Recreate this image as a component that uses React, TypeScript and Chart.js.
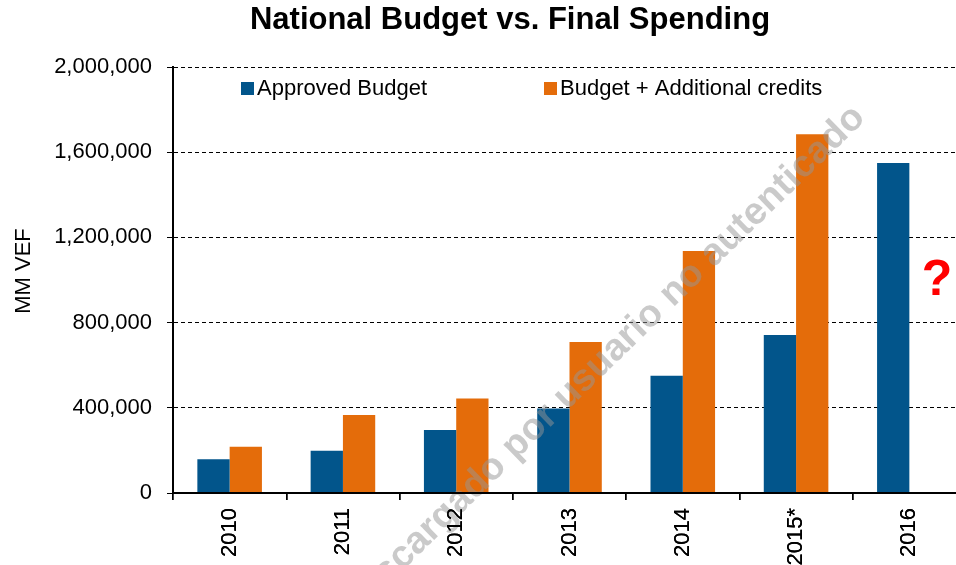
import React, { useEffect, useRef } from "react";
import { Chart, registerables } from "chart.js";

Chart.register(...registerables);

const categories = ["2010", "2011", "2012", "2013", "2014", "2015*", "2016"];
const approvedBudget = [158000, 198000, 296000, 397000, 551000, 742000, 1549000];
const budgetPlusCredits = [217000, 366000, 444000, 709000, 1136000, 1684000, null];
const yTicks = [0, 400000, 800000, 1200000, 1600000, 2000000];

const TITLE = "National Budget vs. Final Spending";
const Y_TITLE = "MM VEF";
const LEGEND = ["Approved Budget", "Budget + Additional credits"];
const WATERMARK = "Descargado por usuario no autenticado";

const BLUE = "#02558B";
const ORANGE = "#E46C0A";
const FONT = "'Liberation Sans', Arial, sans-serif";

const overlay = {
  id: "overlay",
  afterDatasetsDraw(chart: any) {
    const ctx = chart.ctx;
    ctx.save();
    ctx.translate(602, 362);
    ctx.rotate((-44.2 * Math.PI) / 180);
    ctx.font = `bold 38px ${FONT}`;
    ctx.fillStyle = "rgba(150,150,150,0.5)";
    ctx.textAlign = "center";
    ctx.textBaseline = "middle";
    ctx.fillText(WATERMARK, 0, 0);
    ctx.restore();
    chart.scales.x.draw(chart.chartArea);
  },
  afterDraw(chart: any) {
    const ctx = chart.ctx;
    ctx.save();
    // title
    ctx.fillStyle = "#000";
    ctx.font = `bold 31px ${FONT}`;
    ctx.textAlign = "center";
    ctx.textBaseline = "middle";
    ctx.fillText(TITLE, 510, 20);
    // y title
    ctx.save();
    ctx.translate(24, 271);
    ctx.rotate(-Math.PI / 2);
    ctx.font = `22px ${FONT}`;
    ctx.fillText(Y_TITLE, 0, 0);
    ctx.restore();
    // legend
    ctx.font = `22px ${FONT}`;
    ctx.textAlign = "left";
    ctx.fillStyle = BLUE;
    ctx.fillRect(241, 82, 13, 13);
    ctx.fillStyle = "#000";
    ctx.fillText(LEGEND[0], 257, 89);
    ctx.fillStyle = ORANGE;
    ctx.fillRect(544, 82, 13, 13);
    ctx.fillStyle = "#000";
    ctx.fillText(LEGEND[1], 560, 89);
    // question mark
    ctx.fillStyle = "#FF0000";
    ctx.font = `bold 50px ${FONT}`;
    ctx.textAlign = "center";
    ctx.fillText("?", 937, 281);
    ctx.restore();
  },
};

export default function App() {
  const ref = useRef<HTMLCanvasElement | null>(null);
  useEffect(() => {
    document.body.style.margin = "0";
    const canvas = ref.current!;
    const chart = new Chart(canvas, {
      type: "bar",
      data: {
        labels: categories,
        datasets: [
          { label: LEGEND[0], data: approvedBudget, backgroundColor: BLUE },
          { label: LEGEND[1], data: budgetPlusCredits as any, backgroundColor: ORANGE },
        ],
      },
      options: {
        responsive: false,
        animation: false,
        devicePixelRatio: 1,
        layout: { padding: { top: 67, right: 4, left: 0, bottom: 0 } },
        plugins: { legend: { display: false }, title: { display: false }, tooltip: { enabled: false } },
        datasets: { bar: { categoryPercentage: 0.57, barPercentage: 1 } },
        scales: {
          x: {
            offset: true,
            grid: { display: true, drawOnChartArea: false, drawTicks: true, tickLength: 7, color: "#000", offset: true, lineWidth: 1.5 },
            border: { display: true, color: "#000", width: 2 },
            ticks: { color: "#000", font: { family: FONT, size: 22 }, minRotation: 90, maxRotation: 90, padding: 8 },
            afterFit(scale: any) { scale.height = 72; },
          },
          y: {
            min: 0,
            max: 2000000,
            afterBuildTicks(scale: any) { scale.ticks = yTicks.map((v) => ({ value: v })); },
            grid: { color: "#000", lineWidth: 1, tickLength: 6, tickColor: "#000", tickBorderDash: [] },
            border: { display: true, color: "#000", width: 2, dash: [4, 3] },
            ticks: {
              color: "#000",
              font: { family: FONT, size: 22 },
              padding: 15,
              callback: (v: any) => Number(v).toLocaleString("en-US"),
            },
            afterFit(scale: any) { scale.width = 173; },
          },
        },
      },
      plugins: [overlay],
    });
    return () => chart.destroy();
  }, []);
  return (
    <div style={{ position: "absolute", left: 0, top: 0, width: 956, height: 565, overflow: "hidden", background: "#fff" }}>
      <canvas ref={ref} width={970} height={565} style={{ width: 970, height: 565, display: "block" }} />
    </div>
  );
}
